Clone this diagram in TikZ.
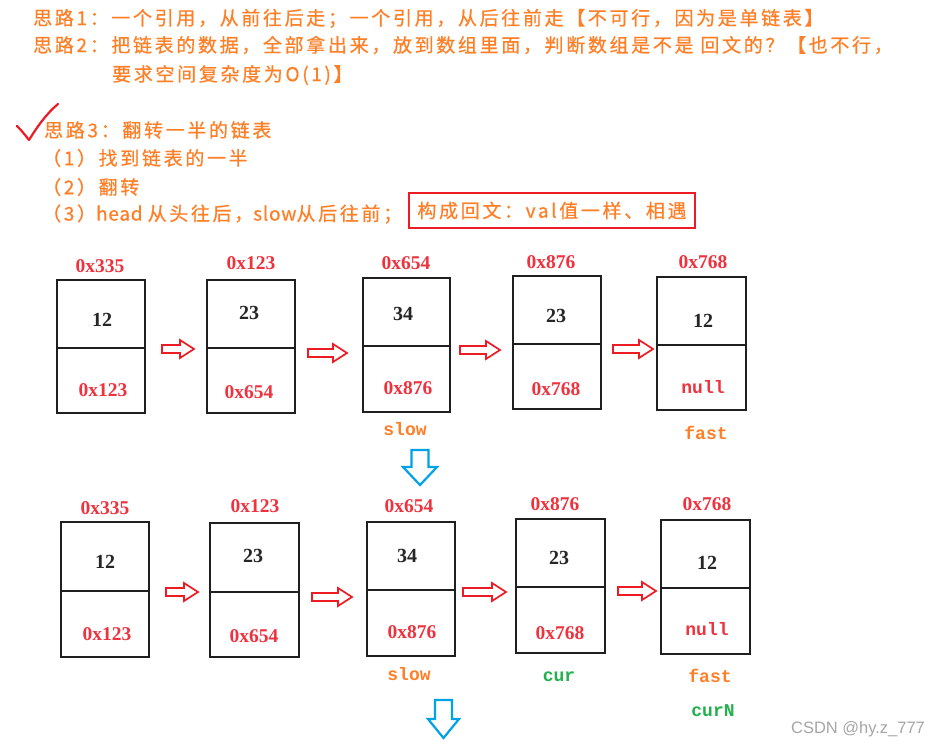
\documentclass[tikz,border=0pt]{standalone}
\usepackage{fontspec}
\setmainfont{Liberation Serif}
\newfontfamily\cjk{Noto Sans CJK SC}[LetterSpace=14,FakeBold=0.6]
\newfontfamily\cjkn{Noto Sans CJK SC}[LetterSpace=4,FakeBold=0.6]
\newfontfamily\monof{Liberation Mono}
\newfontfamily\wmfont{Liberation Sans}
\usetikzlibrary{fit}
\definecolor{txtorange}{RGB}{255,127,39}
\definecolor{boxred}{RGB}{237,28,36}
\definecolor{addrred}{RGB}{238,50,62}
\definecolor{arrblue}{RGB}{0,162,232}
\definecolor{ptrgreen}{RGB}{34,177,76}
\newcommand\harrow[3]{\draw[redarrow] (#1,#3-4) -- (#2-14,#3-4) -- (#2-14,#3-9) -- (#2,#3) -- (#2-14,#3+9) -- (#2-14,#3+4) -- (#1,#3+4) -- cycle;}
\newcommand\varrow[5]{\draw[bluearrow] (#1-8.5,#2) -- (#1+8.5,#2) -- (#1+8.5,#2+#4) -- (#1+#5,#2+#4) -- (#1,#3) -- (#1-#5,#2+#4) -- (#1-8.5,#2+#4) -- cycle;}
\begin{document}
\begin{tikzpicture}[x=1pt,y=-1pt,
  txt/.style={anchor=west, inner sep=0, text=txtorange, font=\cjk\fontsize{19}{22}\selectfont},
  cell/.style={draw=black!88, line width=2pt, inner sep=0pt},
  cellline/.style={draw=black!88, line width=2pt},
  addr/.style={text=addrred, inner sep=0pt, font=\bfseries\fontsize{19.5}{22}\selectfont},
  val/.style={text=black!85, inner sep=0pt, font=\bfseries\fontsize{20}{24}\selectfont},
  ptr/.style={inner sep=0pt, font=\monof\bfseries\fontsize{18}{20}\selectfont},
  redarrow/.style={draw=boxred, line width=1.7pt, line join=miter},
  bluearrow/.style={draw=arrblue, line width=2.2pt, line join=miter}]
\useasboundingbox[fill=white] (0,0) rectangle (932,744);

% ---- text lines ----
\node[txt] (l1) at (33,18.5) {思路1：一个引用，从前往后走；一个引用，从后往前走【不可行，因为是单链表】};
\node[txt] (l2) at (33,45) {思路2：把链表的数据，全部拿出来，放到数组里面，判断数组是不是 回文的？【也不行，};
\node[txt] (l3) at (112,75) {要求空间复杂度为O(1)】};
\node[txt] (l4) at (44,130) {思路3：翻转一半的链表};
\node[txt] (l5) at (42,158) {（1）找到链表的一半};
\node[txt] (l6) at (42,187) {（2）翻转};
\node[txt] (l7) at (42,214) {（3）{\cjkn head }从头往后，{\cjkn slow}从后往前；};
\node[draw=boxred, line width=2pt, minimum width=286pt, minimum height=35pt, inner sep=0pt,
      text=txtorange, font=\cjk\fontsize{19}{22}\selectfont] (concl) at (552,210.5) {构成回文：val值一样、相遇};
\draw[boxred, line width=2.2pt, line cap=round, line join=round]
  (17,126) .. controls (22,131) and (26,136) .. (29,140) .. controls (37,127) and (47,113) .. (58,104);

% ---- row 1 ----
\node[cell, fit={(57,280) (145,413)}] (b11) {};
\node[cell, fit={(207,280) (295,413)}] (b12) {};
\node[cell, fit={(363,278) (450,412)}] (b13) {};
\node[cell, fit={(513,276) (601,409)}] (b14) {};
\node[cell, fit={(657,277) (746,410)}] (b15) {};
\draw[cellline] (b11.west |- 0,348) -- (b11.east |- 0,348);
\draw[cellline] (b12.west |- 0,348) -- (b12.east |- 0,348);
\draw[cellline] (b13.west |- 0,346) -- (b13.east |- 0,346);
\draw[cellline] (b14.west |- 0,344) -- (b14.east |- 0,344);
\draw[cellline] (b15.west |- 0,345) -- (b15.east |- 0,345);
\node[addr] (a11) at (100,266) {0x335};
\node[addr] (a12) at (251,263) {0x123};
\node[addr] (a13) at (406,263) {0x654};
\node[addr] (a14) at (551,262) {0x876};
\node[addr] (a15) at (703,262) {0x768};
\node[val] (v11) at (102,320) {12};
\node[val] (v12) at (249,313) {23};
\node[val] (v13) at (403,314) {34};
\node[val] (v14) at (556,316) {23};
\node[val] (v15) at (703,321) {12};
\node[addr] (n11) at (103,390) {0x123};
\node[addr] (n12) at (249,392) {0x654};
\node[addr] (n13) at (408,388) {0x876};
\node[addr] (n14) at (556,389) {0x768};
\node[ptr, text=addrred] (n15) at (703,387) {null};
\node[ptr, text=txtorange] (slow1) at (405,429) {slow};
\node[ptr, text=txtorange] (fast1) at (706,433) {fast};
\harrow{162}{194}{349}
\harrow{308}{347}{353}
\harrow{460}{500}{350}
\harrow{613}{653}{349}

\varrow{420}{450}{485}{17}{17}

% ---- row 2 ----
\node[cell, fit={(61,522) (149,657)}] (b21) {};
\node[cell, fit={(210,523) (299,657)}] (b22) {};
\node[cell, fit={(367,522) (455,656)}] (b23) {};
\node[cell, fit={(516,519) (605,653)}] (b24) {};
\node[cell, fit={(661,520) (750,654)}] (b25) {};
\draw[cellline] (b21.west |- 0,591) -- (b21.east |- 0,591);
\draw[cellline] (b22.west |- 0,592) -- (b22.east |- 0,592);
\draw[cellline] (b23.west |- 0,590) -- (b23.east |- 0,590);
\draw[cellline] (b24.west |- 0,587) -- (b24.east |- 0,587);
\draw[cellline] (b25.west |- 0,588) -- (b25.east |- 0,588);
\node[addr] (a21) at (105,508) {0x335};
\node[addr] (a22) at (255,506) {0x123};
\node[addr] (a23) at (409,506) {0x654};
\node[addr] (a24) at (555,504) {0x876};
\node[addr] (a25) at (707,504) {0x768};
\node[val] (v21) at (105,562) {12};
\node[val] (v22) at (253,556) {23};
\node[val] (v23) at (407,556) {34};
\node[val] (v24) at (559,558) {23};
\node[val] (v25) at (707,563) {12};
\node[addr] (n21) at (107,634) {0x123};
\node[addr] (n22) at (254,636) {0x654};
\node[addr] (n23) at (412,632) {0x876};
\node[addr] (n24) at (560,633) {0x768};
\node[ptr, text=addrred] (n25) at (707,629) {null};
\node[ptr, text=txtorange] (slow2) at (409,674) {slow};
\node[ptr, text=ptrgreen] (cur2) at (559,677) {cur};
\node[ptr, text=txtorange] (fast2) at (710,676) {fast};
\node[ptr, text=ptrgreen] (curn2) at (713,711) {curN};
\harrow{166}{198}{592}
\harrow{312}{352}{597}
\harrow{463}{506}{592}
\harrow{618}{656}{591}

\varrow{443.5}{700}{738}{19}{15.5}

\node[inner sep=0pt, text=black!35, font=\wmfont\fontsize{16.5}{18}\selectfont] (wm) at (858,729) {CSDN @hy.z\_777};
\end{tikzpicture}
\end{document}
